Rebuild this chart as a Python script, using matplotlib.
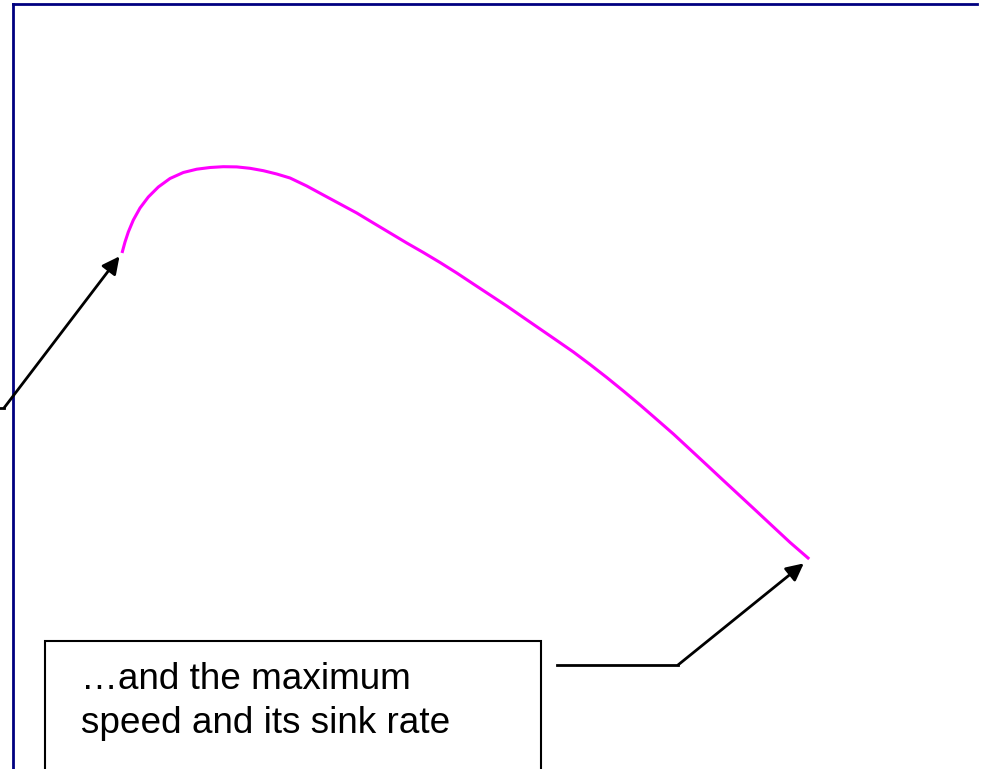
import matplotlib
matplotlib.use("Agg")
import matplotlib.pyplot as plt
from matplotlib.lines import Line2D
from matplotlib.patches import Rectangle

# glider polar: airspeed (km/h) vs sink rate (m/s), sink drawn downward
speed = [60.0, 60.83, 61.74, 63.13, 64.98, 67.27, 70.04, 73.27, 76.95,
         80.66, 84.34, 88.01, 91.72, 95.40, 99.08, 102.78, 106.46, 111.08,
         115.67, 120.29, 124.91, 129.50, 134.12, 138.74, 143.32, 147.94,
         152.56, 157.15, 161.77, 166.39, 170.98, 175.60, 180.22, 184.81,
         189.42, 194.04, 198.63, 203.25, 207.87, 212.46, 217.08, 221.70,
         226.29, 230.91, 235.53, 240.12, 244.73, 250.0]
sink = [2.49, 2.38, 2.28, 2.16, 2.04, 1.93, 1.83, 1.745, 1.685,
        1.652, 1.635, 1.627, 1.629, 1.643, 1.667, 1.70, 1.74, 1.82,
        1.91, 2.00, 2.09, 2.19, 2.29, 2.39, 2.485, 2.585,
        2.69, 2.80, 2.91, 3.02, 3.135, 3.25, 3.365, 3.48,
        3.605, 3.735, 3.87, 4.01, 4.155, 4.30, 4.455, 4.61,
        4.765, 4.92, 5.075, 5.23, 5.385, 5.55]

callout = "\u2026and the maximum\nspeed and its sink rate"

W, H = 988, 769
fig = plt.figure(figsize=(W / 100, H / 100), dpi=100)
ax = fig.add_axes([12.5 / W, 0, (977 - 12.5) / W, 1 - 4 / H])

ax.plot(speed, sink, color="#ff00ff", lw=2.2, solid_capstyle="butt",
        solid_joinstyle="round")
ax.set_xlim(29.72, 296.4)
ax.set_ylim(7.65, 0)

# only the left and top frame lines are visible
for side in ["right", "bottom"]:
    ax.spines[side].set_visible(False)
for side in ["left", "top"]:
    ax.spines[side].set_color("#000080")
    ax.spines[side].set_linewidth(2)
ax.set_xticks([])
ax.set_yticks([])

arrow = dict(arrowstyle="-|>", color="black", lw=2, shrinkA=0,
             mutation_scale=26)

# leader to the slowest point (its box sits off the left edge)
fig.add_artist(Line2D([-10 / W, 4 / W], [361 / H, 361 / H],
                      color="black", lw=2, transform=fig.transFigure))
ax.annotate("", xy=(speed[0], sink[0]), xycoords="data",
            xytext=(4, 361), textcoords="figure pixels",
            arrowprops=dict(arrow, shrinkB=3), annotation_clip=False)

# leader from the callout box to the fastest point
fig.add_artist(Line2D([557 / W, 678 / W], [104 / H, 104 / H],
                      color="black", lw=2, transform=fig.transFigure))
ax.annotate("", xy=(speed[-1], sink[-1]), xycoords="data",
            xytext=(678, 104), textcoords="figure pixels",
            arrowprops=dict(arrow, shrinkB=5), annotation_clip=False)

fig.add_artist(Rectangle((45 / W, -0.05), (541 - 45) / W, 128 / H + 0.05,
                         transform=fig.transFigure, facecolor="white",
                         edgecolor="black", lw=1.5))
fig.text(81 / W, 36 / H, callout, fontsize=26.6, family="Liberation Sans",
         va="baseline", ha="left", linespacing=1.33)

fig.savefig("out.png", dpi=100)
